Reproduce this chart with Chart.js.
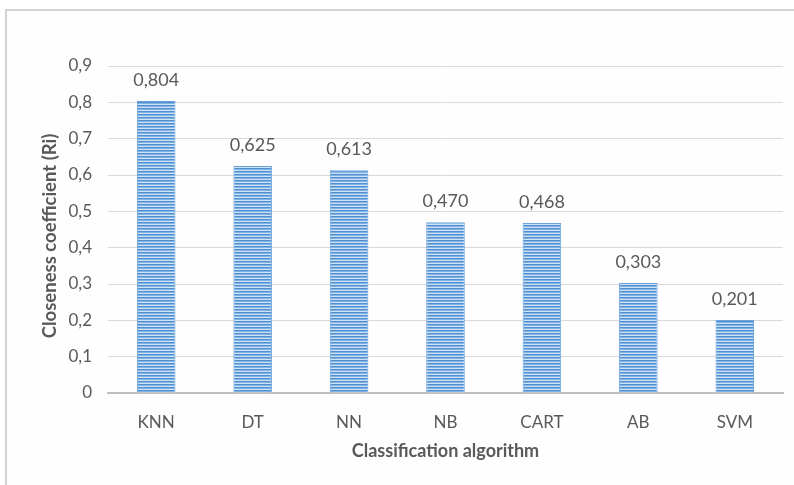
<!DOCTYPE html>
<html>
<head>
<meta charset="utf-8">
<script src="https://cdn.jsdelivr.net/npm/chart.js@4/dist/chart.umd.min.js"></script>
<style>
  html, body { margin: 0; padding: 0; background: #ffffff; }
  #wrap { position: relative; width: 794px; height: 485px; overflow: hidden; }
  #frame { position: absolute; left: 5px; top: 9px; width: 800px; height: 490px;
           border-top: 2px solid #d4d4d4; border-left: 2px solid #d4d4d4; background: #fefefe; }
  canvas { position: absolute; left: 0; top: 0; }
</style>
</head>
<body>
<div id="wrap">
  <div id="frame"></div>
  <canvas id="c" width="794" height="485"></canvas>
</div>
<script>
const categories = ['KNN', 'DT', 'NN', 'NB', 'CART', 'AB', 'SVM'];
const closeness = [0.804, 0.625, 0.613, 0.470, 0.468, 0.303, 0.201];
const valueLabels = ['0,804', '0,625', '0,613', '0,470', '0,468', '0,303', '0,201'];
const yTitle = 'Closeness coefficient (Ri)';
const xTitle = 'Classification algorithm';

const FONT = 'Lato, "Open Sans", sans-serif';
const TEXT = '#595959';

// horizontal stripe fill for the bars
function stripeFill() {
  const p = document.createElement('canvas');
  p.width = 1; p.height = 3;
  const g = p.getContext('2d');
  g.fillStyle = '#4f8fd2'; g.fillRect(0, 0, 1, 1);
  g.fillStyle = '#80b2e2'; g.fillRect(0, 1, 1, 1);
  g.fillStyle = '#cfe2f5'; g.fillRect(0, 2, 1, 1);
  return document.getElementById('c').getContext('2d').createPattern(p, 'repeat');
}

// value labels above each bar, plus the vertical axis title
const barLabels = {
  id: 'barLabels',
  afterDatasetsDraw(chart) {
    const ctx = chart.ctx;
    const meta = chart.getDatasetMeta(0);
    ctx.save();
    ctx.font = '18px ' + FONT;
    ctx.fillStyle = TEXT;
    ctx.textAlign = 'center';
    ctx.textBaseline = 'bottom';
    meta.data.forEach((bar, i) => {
      ctx.fillText(valueLabels[i], bar.x, bar.y - 12);
    });
    ctx.restore();

    ctx.save();
    ctx.translate(50, 236);
    ctx.rotate(-Math.PI / 2);
    ctx.font = 'bold 18.5px ' + FONT;
    ctx.fillStyle = TEXT;
    ctx.textAlign = 'center';
    ctx.textBaseline = 'middle';
    ctx.fillText(yTitle, 0, 0);
    ctx.restore();
  }
};

new Chart(document.getElementById('c'), {
  type: 'bar',
  data: {
    labels: categories,
    datasets: [{
      data: closeness,
      backgroundColor: stripeFill(),
      borderColor: '#6aa1db',
      borderWidth: { left: 1, right: 1, top: 1, bottom: 0 },
      categoryPercentage: 1,
      barPercentage: 0.4
    }]
  },
  options: {
    responsive: false,
    animation: false,
    layout: { padding: { left: 35, right: 11, top: 66, bottom: 0 } },
    plugins: { legend: { display: false }, tooltip: { enabled: false } },
    scales: {
      x: {
        grid: { display: false },
        border: { display: true, color: '#bfbfbf', width: 2 },
        ticks: { color: TEXT, font: { family: FONT, size: 17 }, padding: 11 },
        title: { display: true, text: xTitle, color: TEXT,
                 font: { family: FONT, size: 18, weight: 'bold' }, padding: { top: 0, bottom: 23 } },
        afterFit(s) { s.height = 92; }
      },
      y: {
        min: 0, max: 0.9,
        grid: { color: '#d9d9d9', lineWidth: 1, tickLength: 0 },
        border: { display: false },
        ticks: {
          stepSize: 0.1, color: TEXT, font: { family: FONT, size: 17 }, padding: 16,
          callback: v => (Math.abs(v) < 1e-9 ? '0' : v.toFixed(1).replace('.', ','))
        },
        title: { display: false },
        afterFit(s) { s.width = 73; }
      }
    }
  },
  plugins: [barLabels]
});
</script>
</body>
</html>
